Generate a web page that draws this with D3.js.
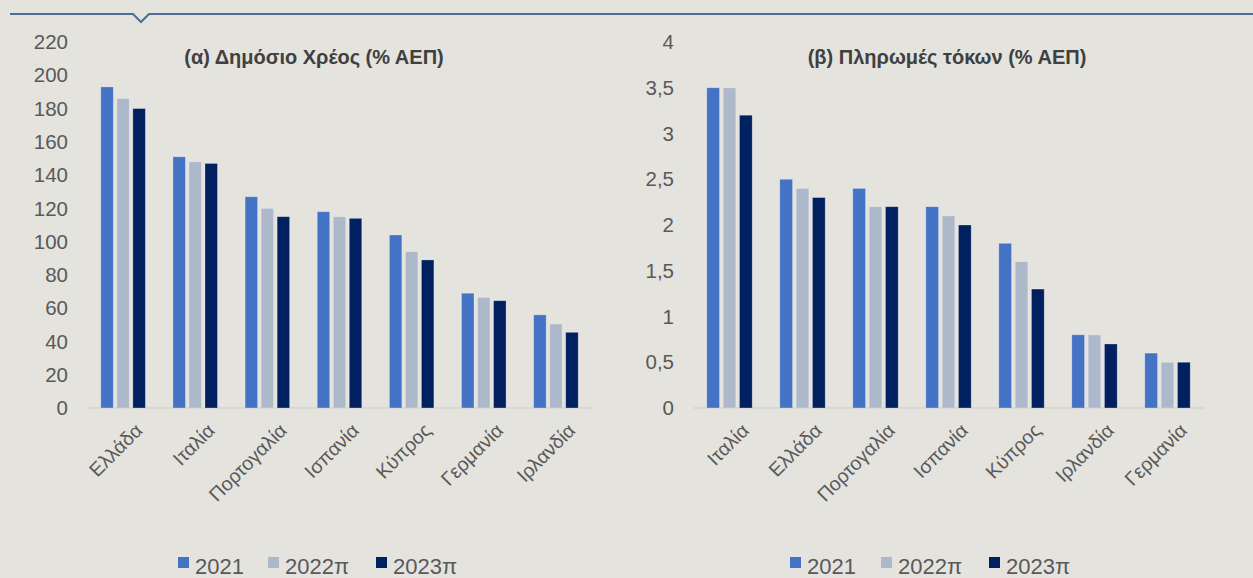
<!DOCTYPE html>
<html>
  <head>
    <meta charset="UTF-8" />
    <style>
      body {
        margin: 0;
        background-color: #e4e3de;
      }
      svg {
        display: block;
        font-family: "Liberation Sans", Arial, sans-serif;
      }
    </style>
  </head>
  <body>
    <svg></svg>

    <script src="https://d3js.org/d3.v7.min.js"></script>

    <script>
      let width = 1253,
        height = 578;

      // data
      const series = ["2021", "2022π", "2023π"];
      const colors = ["#4472c4", "#adb9ca", "#002060"];

      const debtCountries = ["Ελλάδα", "Ιταλία", "Πορτογαλία", "Ισπανία", "Κύπρος", "Γερμανία", "Ιρλανδία"];
      const debt2021 = [193, 151, 127, 118, 104, 69, 56];
      const debt2022 = [186, 148, 120, 115, 94, 66.5, 50.5];
      const debt2023 = [180, 147, 115, 114, 89, 64.5, 45.5];
      const debtTicks = [0, 20, 40, 60, 80, 100, 120, 140, 160, 180, 200, 220];

      const intCountries = ["Ιταλία", "Ελλάδα", "Πορτογαλία", "Ισπανία", "Κύπρος", "Ιρλανδία", "Γερμανία"];
      const int2021 = [3.5, 2.5, 2.4, 2.2, 1.8, 0.8, 0.6];
      const int2022 = [3.5, 2.4, 2.2, 2.1, 1.6, 0.8, 0.5];
      const int2023 = [3.2, 2.3, 2.2, 2.0, 1.3, 0.7, 0.5];
      const intTicks = [0, 0.5, 1, 1.5, 2, 2.5, 3, 3.5, 4];

      let svg = d3.select("svg").attr("width", width).attr("height", height);

      // top rule with the little notch
      svg
        .append("path")
        .attr("d", "M10,14 H133 L141,22 L149,14 H1253")
        .attr("fill", "none")
        .attr("stroke", "#4d6d98")
        .attr("stroke-width", 2);

      const greekNum = (v) => String(v).replace(".", ",");

      function drawPanel(opts) {
        let g = svg.append("g");

        let x = d3.scaleBand().domain(opts.cats).range([opts.x0, opts.x1]).paddingInner(0).paddingOuter(0);
        let y = d3.scaleLinear().domain([0, opts.max]).range([408, 42]);
        let inner = d3.scaleBand().domain(series).range([13.8, x.bandwidth() - 13.8]).paddingInner(0.22);

        // y tick labels
        g.selectAll(".ytick")
          .data(opts.ticks)
          .enter()
          .append("text")
          .attr("x", opts.labelX)
          .attr("y", (d) => y(d))
          .attr("dy", "0.35em")
          .attr("text-anchor", "end")
          .attr("font-size", 20.5)
          .attr("fill", "#595959")
          .text((d) => greekNum(d));

        // baseline
        g.append("line")
          .attr("x1", opts.x0)
          .attr("x2", opts.x1)
          .attr("y1", y(0))
          .attr("y2", y(0))
          .attr("stroke", "#d4d3cf")
          .attr("stroke-width", 1.5);

        // bars
        let rows = opts.cats.map((c, i) => ({ cat: c, vals: opts.vals.map((v) => v[i]) }));
        let grp = g
          .selectAll(".grp")
          .data(rows)
          .enter()
          .append("g")
          .attr("transform", (d) => "translate(" + x(d.cat) + ",0)");
        grp
          .selectAll("rect")
          .data((d) => d.vals.map((v, k) => ({ s: series[k], v: v, k: k })))
          .enter()
          .append("rect")
          .attr("x", (d) => inner(d.s))
          .attr("width", inner.bandwidth())
          .attr("y", (d) => y(d.v))
          .attr("height", (d) => y(0) - y(d.v))
          .attr("fill", (d) => colors[d.k])
          .attr("stroke", "rgba(255,255,255,0.35)")
          .attr("stroke-width", 0.8);

        // category labels
        g.selectAll(".xl")
          .data(opts.cats)
          .enter()
          .append("text")
          .attr("transform", (d) => "translate(" + (x(d) + x.bandwidth() / 2 + 11) + ",422) rotate(-45)")
          .attr("text-anchor", "end")
          .attr("dy", "0.7em")
          .attr("font-size", 19.5)
          .attr("fill", "#595959")
          .text((d) => d);

        // title
        g.append("text")
          .attr("x", opts.titleX)
          .attr("y", 64)
          .attr("text-anchor", "middle")
          .attr("font-size", 20)
          .attr("font-weight", "bold")
          .attr("fill", "#404040")
          .text(opts.title);

        // legend
        let leg = g
          .selectAll(".leg")
          .data(series)
          .enter()
          .append("g")
          .attr("transform", (d, i) => "translate(" + opts.legendX[i] + ",567)");
        leg.append("rect").attr("x", 0).attr("y", -10).attr("width", 11).attr("height", 11).attr("fill", (d, i) => colors[i]);
        leg.append("text")
          .attr("x", 17)
          .attr("y", 0)
          .attr("dy", "0.3em")
          .attr("font-size", 22)
          .attr("fill", "#595959")
          .text((d) => d);
      }

      drawPanel({
        cats: debtCountries,
        vals: [debt2021, debt2022, debt2023],
        ticks: debtTicks,
        max: 220,
        x0: 87,
        x1: 592,
        labelX: 68,
        titleX: 314,
        title: "(α) Δημόσιο Χρέος (% ΑΕΠ)",
        legendX: [178, 268, 376],
      });

      drawPanel({
        cats: intCountries,
        vals: [int2021, int2022, int2023],
        ticks: intTicks,
        max: 4,
        x0: 693,
        x1: 1204,
        labelX: 674,
        titleX: 947,
        title: "(β) Πληρωμές τόκων (% ΑΕΠ)",
        legendX: [790, 881, 989],
      });
    </script>
  </body>
</html>
